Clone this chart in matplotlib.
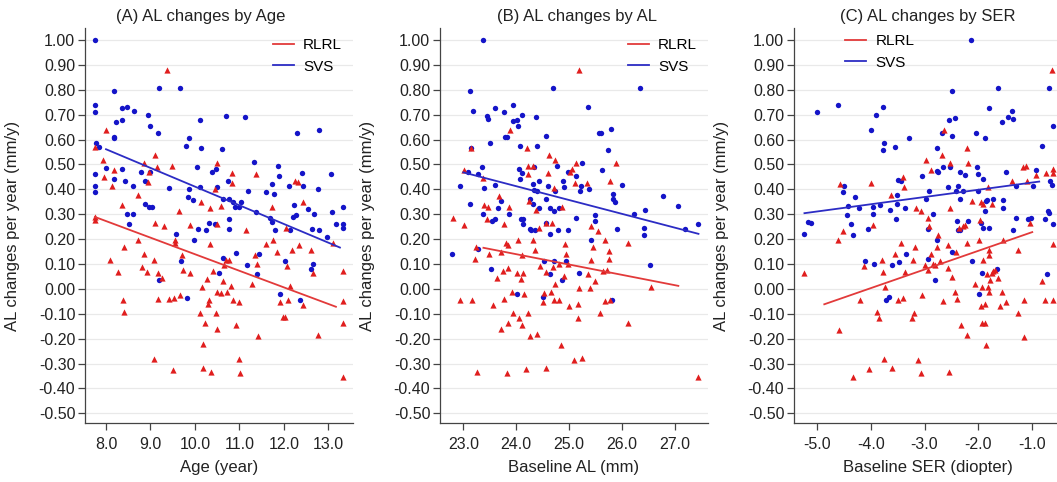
import numpy as np
import matplotlib
matplotlib.use('Agg')
import matplotlib.pyplot as plt

plt.rcParams['font.family'] = ['Liberation Sans', 'DejaVu Sans']

# (x, AL change) pairs
age_svs = np.array([
    [7.75, 1.00], [7.75, 0.74], [7.75, 0.71], [7.77, 0.585], [7.84, 0.57], [7.75, 0.46], [7.75, 0.415], [7.75, 0.39],
    [8.18, 0.795], [8.17, 0.61], [8.17, 0.605], [8.22, 0.67], [8.35, 0.68], [8.37, 0.725], [8.47, 0.73], [8.62, 0.715],
    [8.0, 0.485], [8.19, 0.44], [8.37, 0.48], [8.43, 0.435], [8.6, 0.415], [8.47, 0.30], [8.6, 0.30], [8.52, 0.26],
    [8.79, 0.47], [8.88, 0.435], [8.88, 0.34], [8.97, 0.33], [9.04, 0.33], [8.95, 0.70], [8.98, 0.655], [9.17, 0.625],
    [9.19, 0.805], [9.66, 0.805], [9.0, 0.47], [9.42, 0.405], [9.57, 0.22], [9.2, 0.035], [9.81, 0.575], [9.87, 0.605],
    [9.87, 0.40], [9.84, 0.37], [9.95, 0.355], [9.97, 0.195], [9.69, 0.11], [9.83, -0.035], [10.11, 0.68], [10.14, 0.565],
    [10.05, 0.49], [10.11, 0.41], [10.08, 0.24], [10.24, 0.235], [10.31, 0.265], [10.38, 0.47], [10.47, 0.48], [10.5, 0.41],
    [10.45, 0.26], [10.6, 0.56], [10.64, 0.36], [10.7, 0.695], [10.75, 0.435], [10.76, 0.36], [10.86, 0.35], [10.9, 0.33],
    [10.99, 0.33], [11.04, 0.35], [10.76, 0.28], [10.76, 0.24], [10.62, 0.125], [10.55, 0.065], [10.92, 0.145], [11.13, 0.69],
    [11.2, 0.395], [11.17, 0.095], [11.33, 0.51], [11.37, 0.31], [11.43, 0.14], [11.39, 0.06], [11.6, 0.39], [11.73, 0.42],
    [11.78, 0.38], [11.69, 0.285], [11.73, 0.27], [11.8, 0.235], [11.87, 0.495], [11.89, 0.455], [12.03, 0.11], [11.91, -0.02],
    [12.11, 0.415], [12.13, 0.235], [12.2, 0.29], [12.23, 0.335], [12.28, 0.295], [12.29, 0.625], [12.4, 0.465], [12.42, 0.415],
    [12.37, -0.045], [12.55, 0.32], [12.68, 0.30], [12.63, 0.24], [12.6, 0.08], [12.66, 0.10], [12.78, 0.64], [12.77, 0.40],
    [12.78, 0.235], [12.96, 0.21], [13.07, 0.46], [13.09, 0.31], [13.17, 0.26], [13.34, 0.33], [13.34, 0.26], [13.34, 0.245],
])
age_rlrl = np.array([
    [7.75, 0.57], [7.75, 0.288], [7.75, 0.275], [8.01, 0.638], [7.94, 0.519], [7.96, 0.448], [8.14, 0.412], [8.19, 0.479],
    [8.10, 0.114], [8.28, 0.068], [8.37, 0.335], [8.41, 0.168], [8.39, -0.046], [8.40, -0.095], [8.73, 0.378], [8.73, 0.195],
    [8.85, 0.141], [8.82, 0.088], [8.92, 0.068], [8.86, 0.504], [8.94, 0.431], [8.97, 0.468], [9.10, 0.539], [9.14, 0.488],
    [9.10, 0.264], [9.08, 0.114], [9.17, 0.064], [9.25, 0.044], [9.18, -0.042], [9.08, -0.282], [9.38, 0.878], [9.31, 0.251],
    [9.48, 0.492], [9.42, -0.042], [9.54, -0.036], [9.55, 0.195], [9.55, 0.184], [9.51, -0.326], [9.65, 0.312], [9.66, -0.023],
    [9.72, 0.137], [9.74, 0.074], [9.89, 0.255], [9.89, 0.064], [10.14, 0.348], [10.15, 0.008], [10.11, -0.097], [10.23, -0.137],
    [10.17, -0.223], [10.17, -0.317], [10.28, 0.04], [10.34, 0.181], [10.30, -0.062], [10.32, -0.043], [10.34, 0.324], [10.35, -0.333],
    [10.41, 0.072], [10.45, 0.402], [10.49, 0.504], [10.50, 0.261], [10.49, -0.012], [10.47, -0.097], [10.50, -0.163], [10.59, 0.331],
    [10.59, -0.016], [10.64, 0.03], [10.66, 0.097], [10.70, 0.117], [10.71, -0.012], [10.77, 0.114], [10.80, 0.012], [10.83, 0.424],
    [10.84, 0.466], [10.92, -0.146], [10.86, -0.043], [10.99, -0.052], [11.00, -0.282], [11.01, -0.34], [11.14, 0.235], [11.28, 0.02],
    [11.37, 0.462], [11.35, 0.134], [11.40, 0.101], [11.41, -0.19], [11.60, 0.179], [11.73, 0.328], [11.75, 0.197], [11.84, 0.15],
    [11.91, -0.052], [11.97, -0.115], [12.03, -0.115], [12.06, 0.092], [12.04, 0.245], [12.09, -0.043], [12.14, 0.01], [12.19, 0.157],
    [12.25, 0.435], [12.31, 0.428], [12.33, 0.175], [12.44, 0.348], [12.44, -0.066], [12.60, 0.155], [12.65, 0.064], [12.76, -0.186],
    [13.11, 0.184], [13.34, 0.07], [13.34, -0.05], [13.34, -0.137], [13.34, -0.353],
])

al_svs = np.array([
    [22.78, 0.141], [22.94, 0.415], [23.09, 0.468], [23.13, 0.796], [23.14, 0.566], [23.13, 0.339], [23.18, 0.716], [23.27, 0.462],
    [23.28, 0.161], [23.35, 0.488], [23.38, 1.0], [23.37, 0.301], [23.4, 0.406], [23.44, 0.695], [23.46, 0.682], [23.5, 0.585],
    [23.52, 0.081], [23.55, 0.271], [23.59, 0.726], [23.6, 0.418], [23.6, 0.281], [23.65, 0.326], [23.71, 0.351], [23.77, 0.709],
    [23.79, 0.609], [23.83, 0.609], [23.87, 0.301], [23.94, 0.74], [23.94, 0.673], [24.01, 0.679], [24.03, 0.655], [24.1, 0.70],
    [24.07, 0.575], [24.06, 0.482], [24.07, 0.442], [24.11, 0.466], [24.08, 0.281], [24.12, 0.281], [24.13, 0.261], [24.01, -0.019],
    [24.26, 0.362], [24.26, 0.241], [24.27, 0.235], [24.31, 0.422], [24.31, 0.339], [24.34, 0.399], [24.34, 0.491], [24.35, 0.235],
    [24.37, 0.689], [24.39, 0.573], [24.39, 0.392], [24.42, 0.435], [24.42, 0.326], [24.53, 0.11], [24.5, -0.032], [24.56, 0.613],
    [24.56, 0.359], [24.57, 0.263], [24.63, 0.219], [24.59, 0.415], [24.64, 0.326], [24.64, 0.061], [24.69, 0.805], [24.71, 0.11],
    [24.72, 0.312], [24.74, 0.395], [24.76, 0.495], [24.78, 0.235], [24.8, 0.326], [24.86, 0.034], [24.89, 0.432], [24.91, 0.408],
    [24.97, 0.235], [24.98, 0.468], [24.93, 0.112], [25.12, 0.452], [25.12, 0.285], [25.18, 0.064], [25.2, 0.395], [25.22, 0.412],
    [25.24, 0.506], [25.36, 0.729], [25.37, 0.402], [25.41, 0.195], [25.48, 0.295], [25.48, 0.271], [25.57, 0.625], [25.6, 0.625],
    [25.61, 0.478], [25.73, 0.558], [25.79, 0.642], [25.82, 0.382], [25.82, 0.362], [25.87, 0.348], [25.9, 0.241], [25.8, -0.043],
    [25.99, 0.418], [26.23, 0.301], [26.34, 0.806], [26.43, 0.317], [26.42, 0.245], [26.42, 0.215], [26.53, 0.097], [26.77, 0.372],
    [27.05, 0.331], [27.18, 0.241], [27.44, 0.261],
])
al_rlrl = np.array([
    [22.81, 0.285], [23.02, 0.255], [22.94, -0.046], [23.02, 0.478], [23.14, 0.566], [23.17, -0.046], [23.24, 0.168], [23.23, 0.118],
    [23.25, -0.333], [23.38, 0.446], [23.4, 0.338], [23.44, 0.279], [23.46, 0.328], [23.49, 0.139], [23.57, -0.066], [23.64, 0.044],
    [23.68, 0.375], [23.71, 0.148], [23.75, 0.072], [23.76, -0.039], [23.71, -0.163], [23.77, 0.261], [23.82, -0.34], [23.84, -0.137],
    [23.81, 0.184], [23.85, 0.175], [23.85, 0.085], [23.87, 0.328], [23.88, 0.639], [23.91, -0.012], [23.93, -0.097], [24.04, 0.195],
    [24.01, 0.064], [24.06, -0.119], [24.08, 0.04], [24.1, -0.146], [24.13, 0.064], [24.11, 0.134], [24.15, -0.019], [24.18, -0.324],
    [24.2, 0.565], [24.22, 0.462], [24.23, -0.097], [24.23, 0.492], [24.24, 0.352], [24.26, -0.19], [24.31, 0.492], [24.32, 0.195],
    [24.35, 0.157], [24.37, 0.315], [24.39, -0.183], [24.42, 0.245], [24.44, 0.091], [24.5, -0.052], [24.52, -0.016], [24.56, -0.317],
    [24.56, 0.068], [24.57, 0.263], [24.62, 0.539], [24.59, 0.466], [24.65, -0.012], [24.67, 0.263], [24.7, 0.088], [24.71, -0.046],
    [24.72, 0.406], [24.74, 0.519], [24.74, 0.021], [24.8, 0.098], [24.81, -0.046], [24.84, -0.226], [24.86, 0.328], [24.91, 0.05],
    [24.92, 0.179], [24.94, 0.141], [24.98, 0.101], [25.0, -0.07], [25.02, 0.468], [25.06, 0.482], [25.09, -0.286], [25.1, 0.424],
    [25.12, 0.505], [25.16, -0.059], [25.17, -0.117], [25.19, 0.003], [25.19, 0.878], [25.25, -0.279], [25.33, 0.424], [25.35, 0.061],
    [25.39, 0.005], [25.41, 0.251], [25.41, 0.114], [25.44, 0.17], [25.48, 0.03], [25.55, 0.232], [25.58, -0.097], [25.63, 0.072],
    [25.68, -0.048], [25.68, 0.195], [25.71, 0.077], [25.75, 0.154], [25.76, 0.118], [25.77, 0.435], [25.77, -0.043], [25.88, 0.505],
    [26.11, 0.184], [26.11, -0.137], [26.55, 0.008], [27.44, -0.353],
])

ser_svs = np.array([
    [-5.25, 0.219], [-5.17, 0.268], [-5.12, 0.264], [-5.0, 0.709], [-4.62, 0.74], [-4.53, 0.391], [-4.5, 0.415], [-4.44, 0.295],
    [-4.43, 0.331], [-4.38, 0.259], [-4.33, 0.215], [-4.3, 0.371], [-4.22, 0.326], [-4.11, 0.112], [-4.06, 0.241], [-3.99, 0.639],
    [-3.97, 0.301], [-3.97, 0.328], [-3.94, 0.101], [-3.91, 0.70], [-3.83, 0.335], [-3.78, 0.558], [-3.77, 0.729], [-3.76, 0.586],
    [-3.72, -0.043], [-3.67, -0.032], [-3.64, 0.317], [-3.61, 0.094], [-3.56, 0.571], [-3.54, 0.279], [-3.52, 0.379], [-3.52, 0.339],
    [-3.5, 0.438], [-3.47, 0.108], [-3.43, 0.435], [-3.36, 0.326], [-3.35, 0.141], [-3.29, 0.606], [-3.05, 0.452], [-2.98, 0.359],
    [-2.94, 0.241], [-2.93, 0.121], [-2.92, 0.392], [-2.85, 0.299], [-2.8, 0.035], [-2.77, 0.195], [-2.77, 0.565], [-2.76, 0.475],
    [-2.75, 0.468], [-2.68, 0.625], [-2.65, 0.488], [-2.56, 0.408], [-2.54, 0.679], [-2.52, 0.491], [-2.49, 0.613], [-2.48, 0.796],
    [-2.48, 0.148], [-2.43, 0.686], [-2.41, 0.395], [-2.4, 0.271], [-2.38, 0.415], [-2.37, 0.235], [-2.34, 0.362], [-2.34, 0.237],
    [-2.33, 0.468], [-2.28, 0.395], [-2.24, 0.459], [-2.18, 0.272], [-2.14, 1.0], [-2.12, 0.112], [-2.04, 0.625], [-2.03, 0.488],
    [-2.01, 0.462], [-2.0, 0.392], [-1.98, -0.019], [-1.95, 0.264], [-1.93, 0.064], [-1.91, 0.245], [-1.91, 0.442], [-1.88, 0.606],
    [-1.87, 0.312], [-1.86, 0.352], [-1.84, 0.355], [-1.8, 0.244], [-1.79, 0.726], [-1.72, 0.359], [-1.64, 0.081], [-1.62, 0.806],
    [-1.56, 0.672], [-1.54, 0.324], [-1.53, 0.355], [-1.48, 0.468], [-1.44, 0.692], [-1.36, 0.716], [-1.34, 0.682], [-1.34, 0.235],
    [-1.29, 0.285], [-1.29, 0.412], [-1.06, 0.281], [-1.02, 0.284], [-0.97, 0.415], [-0.92, 0.478], [-0.81, 0.575], [-0.76, 0.281],
    [-0.72, 0.061], [-0.7, 0.312], [-0.67, 0.304], [-0.68, 0.806], [-0.66, 0.435], [-0.63, 0.419], [-0.61, 0.655], [-0.61, 0.261],
])
ser_rlrl = np.array([
    [-5.25, 0.064], [-4.62, 0.195], [-4.6, -0.166], [-4.58, 0.422], [-4.53, 0.232], [-4.34, -0.353], [-4.2, -0.046], [-4.12, 0.091],
    [-4.03, -0.324], [-3.99, 0.424], [-3.97, 0.255], [-3.89, -0.095], [-3.84, -0.119], [-3.8, 0.117], [-3.77, 0.068], [-3.74, 0.008],
    [-3.75, -0.282], [-3.63, 0.379], [-3.6, -0.317], [-3.55, 0.141], [-3.5, -0.043], [-3.44, 0.184], [-3.41, -0.036], [-3.4, 0.448],
    [-3.38, 0.411], [-3.36, 0.068], [-3.23, -0.119], [-3.21, 0.117], [-3.18, 0.168], [-3.19, -0.097], [-3.15, 0.326], [-3.13, -0.286],
    [-3.07, 0.312], [-3.07, -0.34], [-3.05, -0.023], [-2.98, 0.518], [-2.99, 0.094], [-2.94, 0.077], [-2.94, 0.285], [-2.91, 0.251],
    [-2.88, 0.478], [-2.87, 0.139], [-2.85, 0.101], [-2.8, 0.094], [-2.77, 0.168], [-2.75, 0.217], [-2.72, 0.11], [-2.68, 0.539],
    [-2.65, -0.048], [-2.63, 0.638], [-2.56, 0.176], [-2.56, 0.083], [-2.54, -0.333], [-2.52, 0.326], [-2.52, 0.504], [-2.49, 0.048],
    [-2.44, -0.012], [-2.42, 0.148], [-2.39, -0.042], [-2.35, 0.244], [-2.32, -0.146], [-2.28, 0.252], [-2.24, 0.257], [-2.21, 0.566],
    [-2.2, -0.186], [-2.2, 0.184], [-2.18, 0.504], [-2.11, 0.351], [-2.06, 0.021], [-1.99, 0.195], [-1.97, 0.275], [-1.95, 0.348],
    [-1.95, -0.07], [-1.92, -0.137], [-1.93, 0.008], [-1.91, 0.339], [-1.9, 0.117], [-1.87, -0.137], [-1.87, -0.062], [-1.85, -0.226],
    [-1.84, 0.061], [-1.81, 0.408], [-1.81, 0.008], [-1.8, 0.157], [-1.79, 0.134], [-1.79, -0.012], [-1.78, 0.036], [-1.75, 0.339],
    [-1.75, 0.064], [-1.72, 0.072], [-1.69, 0.077], [-1.62, 0.045], [-1.59, -0.07], [-1.55, -0.012], [-1.53, 0.197], [-1.48, -0.052],
    [-1.36, 0.435], [-1.25, 0.155], [-1.25, -0.097], [-1.14, -0.046], [-1.14, -0.193], [-1.16, 0.488], [-1.11, 0.492], [-1.09, 0.435],
    [-1.04, 0.264], [-0.92, 0.459], [-0.81, 0.03], [-0.76, -0.046], [-0.74, 0.466], [-0.63, 0.878], [-0.61, 0.482], [-0.6, 0.464],
    [-0.61, 0.179], [-0.6, -0.046],
])

# fitted lines: [x_start, x_end], [y_start, y_end]
age_fit_rlrl = ([7.75, 13.17], [0.289, -0.072])
age_fit_svs = ([8.0, 13.26], [0.561, 0.166])
al_fit_rlrl = ([23.38, 27.06], [0.165, 0.012])
al_fit_svs = ([23.0, 27.44], [0.468, 0.221])
ser_fit_rlrl = ([-4.87, -0.99], [-0.062, 0.228])
ser_fit_svs = ([-5.24, -0.86], [0.304, 0.431])

titles = ['(A) AL changes by Age', '(B) AL changes by AL', '(C) AL changes by SER']
xlabels = ['Age (year)', 'Baseline AL (mm)', 'Baseline SER (diopter)']
xticks_list = [[8, 9, 10, 11, 12, 13], [23, 24, 25, 26, 27], [-5, -4, -3, -2, -1]]
xlims = [(7.528, 13.554), (22.56, 27.62), (-5.435, -0.435)]
yticks = np.round(np.arange(-0.5, 1.001, 0.1), 2)

RED = '#e01e1e'
BLUE = '#1414c8'

fig = plt.figure(figsize=(10.57, 4.82), dpi=100)
lefts = [85 / 1057, 440 / 1057, 794 / 1057]
title_x = [201 / 1057, 577 / 1057, 928 / 1057]
panels = [
    (age_rlrl, age_svs, age_fit_rlrl, age_fit_svs),
    (al_rlrl, al_svs, al_fit_rlrl, al_fit_svs),
    (ser_rlrl, ser_svs, ser_fit_rlrl, ser_fit_svs),
]
legend_anchor = [(0.70, 0.975), (0.70, 0.975), (0.19, 0.985)]

for i, (rlrl, svs, fit_r, fit_s) in enumerate(panels):
    ax = fig.add_axes([lefts[i], 0.1224, 268 / 1057, 0.8195])
    ax.yaxis.grid(True, color='#e9e9e9', lw=0.9)
    ax.set_axisbelow(True)
    ax.scatter(svs[:, 0], svs[:, 1], marker='o', s=15, color=BLUE, linewidths=0, zorder=3)
    ax.scatter(rlrl[:, 0], rlrl[:, 1], marker='^', s=20, color=RED, linewidths=0, zorder=3)
    ax.plot(fit_r[0], fit_r[1], color='#e23a3a', lw=1.3, label='RLRL', zorder=4)
    ax.plot(fit_s[0], fit_s[1], color='#2c2cc4', lw=1.3, label='SVS', zorder=4)

    ax.set_xlim(*xlims[i])
    ax.set_ylim(-0.539, 1.048)
    ax.set_xticks(xticks_list[i])
    ax.set_xticklabels(['{:.1f}'.format(t) for t in xticks_list[i]])
    ax.set_yticks(yticks)
    ax.set_yticklabels(['{:.2f}'.format(t + 0.0) if abs(t) > 1e-9 else '0.00' for t in yticks])
    ax.tick_params(axis='both', labelsize=11.5, length=5, width=0.9, color='#444444', labelcolor='#222222')
    ax.tick_params(axis='x', pad=5)
    ax.tick_params(axis='y', pad=2)
    for side in ['top', 'right']:
        ax.spines[side].set_visible(False)
    for side in ['left', 'bottom']:
        ax.spines[side].set_color('#444444')
        ax.spines[side].set_linewidth(0.9)

    ax.set_xlabel(xlabels[i], fontsize=12, color='#222222', labelpad=6)
    ax.set_ylabel('AL changes per year (mm/y)', fontsize=12, color='#222222')
    ax.yaxis.set_label_coords(-0.243, 0.5)
    fig.text(title_x[i], 0.965, titles[i], fontsize=12, color='#222222', ha='center', va='center')

    ax.legend(loc='upper left', bbox_to_anchor=legend_anchor[i], frameon=False, fontsize=11,
              handlelength=1.4, handletextpad=0.6, labelspacing=0.5, borderpad=0, borderaxespad=0)

fig.savefig('out.png', dpi=100)
